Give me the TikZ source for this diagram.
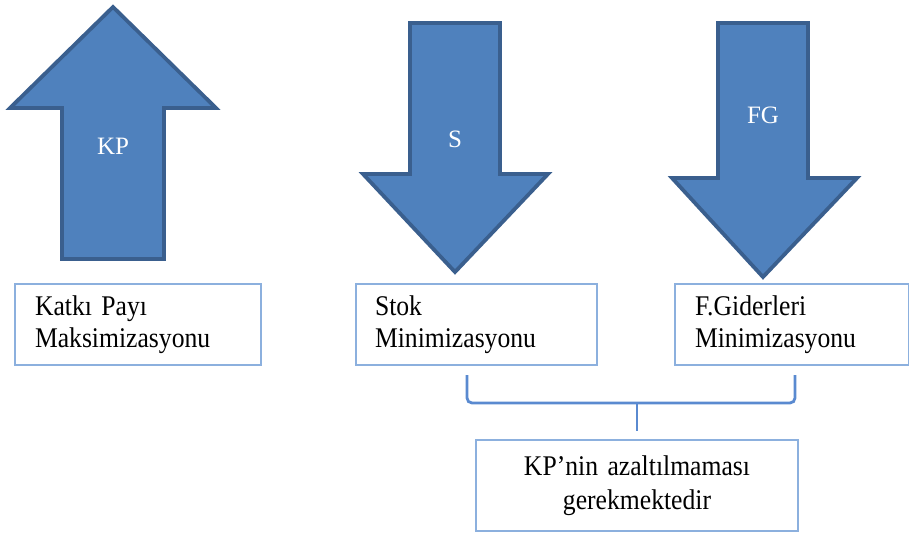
\documentclass[tikz,border=0pt]{standalone}
\usepackage{fontspec}
\setmainfont{Liberation Serif}
\newfontfamily\boxfont[FakeStretch=0.9]{Liberation Serif}
\definecolor{arrowfill}{HTML}{4F81BD}
\definecolor{arrowedge}{HTML}{3A5F8E}
\definecolor{boxedge}{HTML}{8CB0DE}
\definecolor{braceblue}{HTML}{5A8AD0}
\tikzset{
  bigarrow/.style={fill=arrowfill, draw=arrowedge, line width=3.8pt, line join=miter},
  arrowlabel/.style={text=white, font=\fontsize{25}{28}\selectfont},
  textbox/.style={draw=boxedge, line width=2pt, anchor=north west, align=left,
    inner xsep=20pt, inner ysep=0pt, font=\boxfont\fontsize{28.5}{32}\selectfont},
  bracepath/.style={draw=braceblue, line width=2.8pt, rounded corners=5pt}
}
\begin{document}
\begin{tikzpicture}[x=1pt,y=-1pt]
\useasboundingbox (0,0) rectangle (909,533);

% upward arrow
\draw[bigarrow] (62,259) -- (62,108) -- (10,108) -- (113,7) -- (216,108)
  -- (164,108) -- (164,259) -- cycle;
\node[arrowlabel] (kp) at (113,146) {KP};

% downward arrow, stock
\draw[bigarrow] (410,23) -- (500,23) -- (500,174) -- (548,174) -- (455,272)
  -- (363,174) -- (410,174) -- cycle;
\node[arrowlabel] (s) at (455,139) {S};

% downward arrow, fixed costs
\draw[bigarrow] (718,23) -- (808,23) -- (808,178) -- (857,178) -- (763,277)
  -- (672,178) -- (718,178) -- cycle;
\node[arrowlabel] (fg) at (763,115) {FG};

% goal boxes
\node[textbox, minimum height=81pt, text width=206pt] (b1) at (14,283)
  {Katkı Payı\\Maksimizasyonu};
\node[textbox, minimum height=81pt, text width=203pt, inner xsep=19pt] (b2) at (355,283)
  {Stok\\Minimizasyonu};
\node[textbox, minimum height=81pt, text width=194pt] (b3) at (674,283)
  {F.Giderleri\\Minimizasyonu};
\node[textbox, minimum height=91pt, text width=282pt, align=center,
  font=\boxfont\fontsize{28.5}{34}\selectfont] (b4) at (475,439)
  {KP’nin azaltılmaması\\gerekmektedir};

% brace joining the two minimisation boxes
\coordinate (bl) at (467,375);
\coordinate (br) at (795,375);
\coordinate (bm) at (b4.north);
\draw[bracepath] (bl) -- (bl |- 0,403) -- (br |- 0,403) -- (br);
\draw[braceblue, line width=2.8pt] (bm |- 0,403) -- (bm |- 0,431);
\end{tikzpicture}
\end{document}
